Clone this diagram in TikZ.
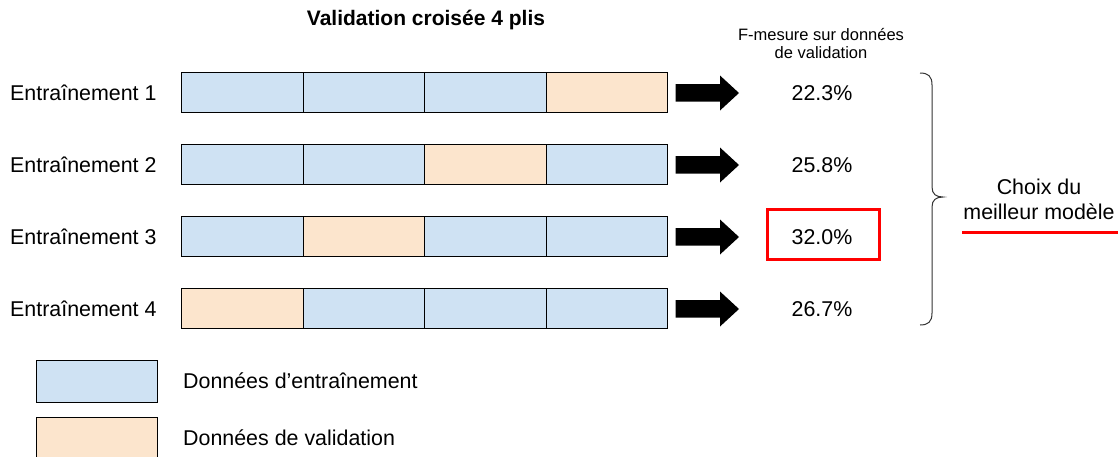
\documentclass[tikz,border=0pt]{standalone}
\usepackage{fontspec}
\setmainfont{Liberation Sans}
\definecolor{trainblue}{HTML}{CFE2F3}
\definecolor{valorange}{HTML}{FCE5CD}
\definecolor{redbox}{HTML}{FF0000}
\begin{document}
\begin{tikzpicture}[x=1pt,y=-1pt,
  cell/.style={draw=black,line width=1pt,minimum width=121.5pt,minimum height=40pt,inner sep=0pt,anchor=north west},
  tr/.style={cell,fill=trainblue},
  va/.style={cell,fill=valorange},
  lbl/.style={font=\fontsize{21.4}{25}\selectfont,inner sep=0pt},
  blockarrow/.style={fill=black},
]
\useasboundingbox (0,0) rectangle (1118,456);
% title
\node[font=\bfseries\fontsize{21}{24}\selectfont,inner sep=0pt] (title) at (426,20) {Validation croisée 4 plis};
\node[font=\fontsize{16.5}{18}\selectfont,align=center,inner sep=0pt] (fmes) at (821,44) {F-mesure sur données\\de validation};
% rows
\foreach \r/\a/\b/\c/\d/\p in {1/tr/tr/tr/va/22.3\%,2/tr/tr/va/tr/25.8\%,3/tr/va/tr/tr/32.0\%,4/va/tr/tr/tr/26.7\%}{
  \pgfmathsetmacro{\yy}{72+72*(\r-1)}
  \node[lbl,anchor=west] (lab\r) at (10,\yy+21) {Entraînement \r};
  \node[\a] (c\r a) at (181,\yy) {};
  \node[\b] (c\r b) at (302.5,\yy) {};
  \node[\c] (c\r c) at (424,\yy) {};
  \node[\d] (c\r d) at (545.5,\yy) {};
  \fill[blockarrow] (675.5,\yy+12) -- (720,\yy+12) -- (720,\yy+3.5) -- (739,\yy+21) -- (720,\yy+38.5) -- (720,\yy+29.5) -- (675.5,\yy+29.5) -- cycle;
  \node[lbl] (pct\r) at (822,\yy+21) {\p};
}
% highlight
\node[draw=redbox,line width=3pt,minimum width=112pt,minimum height=50pt,inner sep=0pt] (best) at (823.5,234.5) {};
% brace
\coordinate (btop) at (920,73);
\coordinate (bbot) at (920,325);
\coordinate (btip) at (943,197);
\draw[line width=1pt,black!80] (btop) .. controls (928,73) and (932,76) .. (932,85) -- (932,187) .. controls (932,194) and (936,197) .. (btip) .. controls (936,197) and (932,200) .. (932,207) -- (932,313) .. controls (932,322) and (928,325) .. (bbot);
\node[lbl,align=center] (choix) at (1039,199.5) {Choix du\\meilleur modèle};
\draw[redbox,line width=3pt] (962,232) -- (1118,232);
% legend
\node[tr,minimum width=121pt,minimum height=42pt] (legtr) at (36,360) {};
\node[va,minimum width=121pt,minimum height=42pt] (legva) at (36,417) {};
\node[lbl,anchor=west] (legtrt) at (183,381) {Données d’entraînement};
\node[lbl,anchor=west] (legvat) at (183,438) {Données de validation};
\end{tikzpicture}
\end{document}
